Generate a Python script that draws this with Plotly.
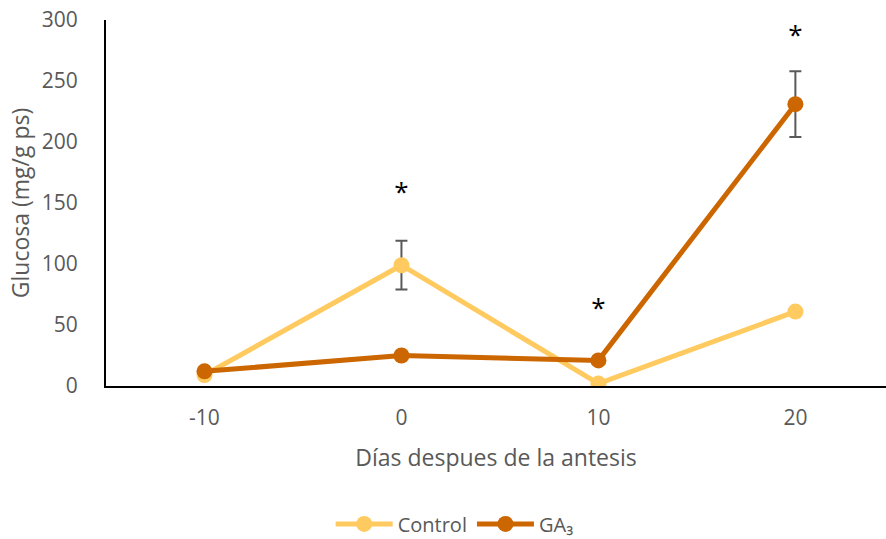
import plotly.graph_objects as go

# Days after anthesis (category labels)
dias = ["-10", "0", "10", "20"]

# Glucose content (mg/g dry weight)
control = [9, 99, 2, 61]
control_err = [0, 20, 0, 0]
ga3 = [12, 25, 21, 231]
ga3_err = [0, 3, 0, 27]

# Significance marks (category, height)
sig_x = ["0", "10", "20"]
sig_y = [157, 62, 286]

font_family = "Open Sans, Liberation Sans, sans-serif"
gray = "#595959"

fig = go.Figure()
fig.add_trace(go.Scatter(
    x=dias, y=control, name="Control", mode="lines+markers",
    line=dict(color="#FFCA5F", width=5),
    marker=dict(color="#FFCA5F", size=16),
    error_y=dict(type="data", array=control_err, visible=True,
                 color=gray, thickness=2, width=6),
))
fig.add_trace(go.Scatter(
    x=dias, y=ga3, name="GA₃", mode="lines+markers",
    line=dict(color="#CC6600", width=5),
    marker=dict(color="#CC6600", size=16),
    error_y=dict(type="data", array=ga3_err, visible=True,
                 color=gray, thickness=2, width=6),
))

# Asterisks for significant differences
fig.add_trace(go.Scatter(
    x=sig_x, y=sig_y, mode="text", text=["*"] * len(sig_x),
    textposition="middle center", showlegend=False, hoverinfo="skip",
    textfont=dict(size=26, color="black", family=font_family),
))

fig.update_layout(
    width=886, height=539,
    margin=dict(l=106, r=0, t=20, b=153, autoexpand=False),
    paper_bgcolor="white", plot_bgcolor="white",
    font=dict(family=font_family, color=gray, size=20),
    showlegend=True,
    legend=dict(orientation="h", x=0.447, xref="paper", xanchor="center",
                yref="container", y=0.028, yanchor="middle",
                itemwidth=57,
                font=dict(size=20, color=gray)),
    xaxis=dict(
        type="category", range=[-0.5, 3.46],
        showline=True, linecolor="black", linewidth=2,
        showgrid=False, ticks="", ticklabelstandoff=12,
        tickfont=dict(size=21, color=gray),
        title=dict(text="Días despues de la antesis", standoff=20,
                   font=dict(size=23, color=gray)),
    ),
    yaxis=dict(
        range=[0, 300], dtick=50,
        showline=True, linecolor="black", linewidth=2,
        showgrid=False, zeroline=False, ticks="",
        ticklabelstandoff=22,
        tickfont=dict(size=21, color=gray),
        title=dict(text="Glucosa (mg/g ps)", standoff=6,
                   font=dict(size=23, color=gray)),
    ),
)

fig.write_html("out.html")
